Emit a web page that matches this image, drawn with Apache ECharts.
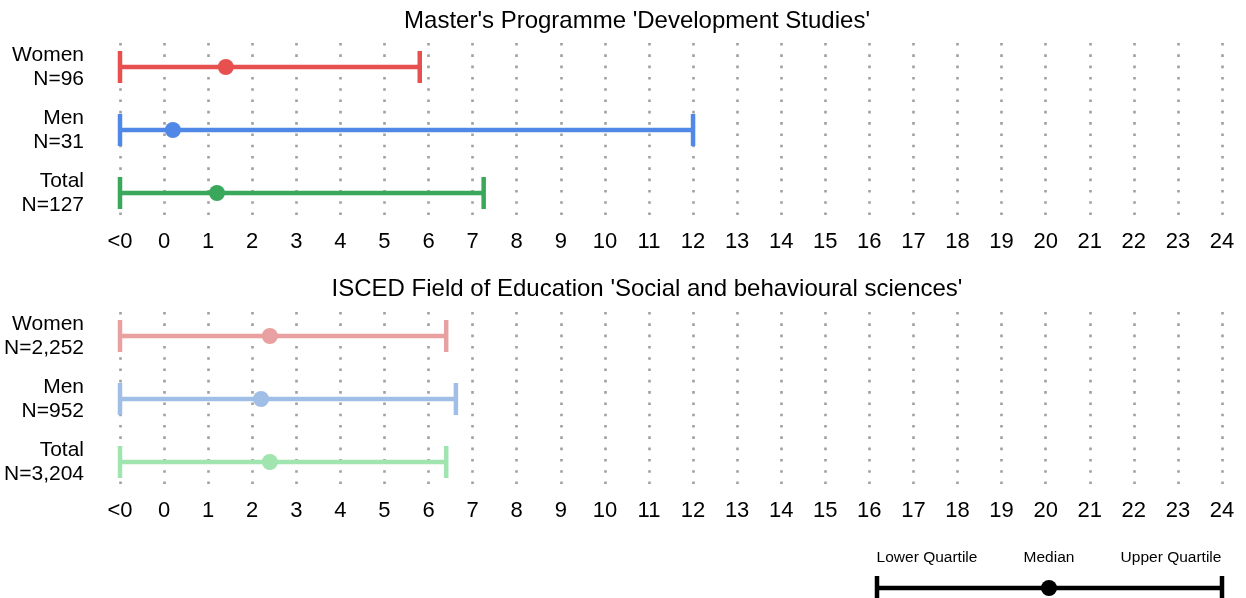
<!DOCTYPE html>
<html><head><meta charset="utf-8">
<script src="https://cdn.jsdelivr.net/npm/echarts@6/dist/echarts.min.js"></script>
<style>html,body{margin:0;padding:0;background:#fff}#c{width:1246px;height:598px}</style>
</head><body><div id="c"></div>
<script>
const titles = ["Master's Programme 'Development Studies'", "ISCED Field of Education 'Social and behavioural sciences'"];
const groups = ["Women", "Men", "Total"];
const countsProgramme = ["96", "31", "127"];
const countsField = ["2,252", "952", "3,204"];
const xTickValues = [-1,0,1,2,3,4,5,6,7,8,9,10,11,12,13,14,15,16,17,18,19,20,21,22,23,24];
const xTickLabels = ["<0","0","1","2","3","4","5","6","7","8","9","10","11","12","13","14","15","16","17","18","19","20","21","22","23","24"];
const lowerProgramme = [-1, -1, -1];
const medianProgramme = [1.4, 0.2, 1.2];
const upperProgramme = [5.8, 12.0, 7.25];
const lowerField = [-1, -1, -1];
const medianField = [2.4, 2.2, 2.4];
const upperField = [6.4, 6.62, 6.4];
const colorsProgramme = ["#E84F4F", "#5088E8", "#3AA85A"];
const colorsField = ["#E8A0A0", "#A0BEE6", "#A0E4B0"];
const legendLabels = ["Lower Quartile", "Median", "Upper Quartile"];

const FONT = "'Liberation Sans', Arial, sans-serif";
const chart = echarts.init(document.getElementById('c'), null, {renderer: 'canvas'});

function renderItem(params, api) {
  const row = api.value(3);
  const lo = api.coord([api.value(0), row]);
  const md = api.coord([api.value(1), row]);
  const hi = api.coord([api.value(2), row]);
  const color = api.visual('color');
  const w = 4.5, cap = 16;
  return {
    type: 'group',
    children: [
      {type: 'line', shape: {x1: lo[0], y1: lo[1], x2: hi[0], y2: hi[1]}, style: {stroke: color, lineWidth: w}},
      {type: 'line', shape: {x1: lo[0], y1: lo[1] - cap, x2: lo[0], y2: lo[1] + cap}, style: {stroke: color, lineWidth: w}},
      {type: 'line', shape: {x1: hi[0], y1: hi[1] - cap, x2: hi[0], y2: hi[1] + cap}, style: {stroke: color, lineWidth: w}},
      {type: 'circle', shape: {cx: md[0], cy: md[1], r: 8}, style: {fill: color}}
    ]
  };
}

function makeData(lo, md, hi, colors) {
  return groups.map((g, i) => ({value: [lo[i], md[i], hi[i], i], itemStyle: {color: colors[i]}}));
}

function xAxis(idx) {
  return {
    gridIndex: idx, type: 'value', min: -1, max: 24, interval: 1,
    axisLine: {show: false}, axisTick: {show: false},
    axisLabel: {margin: 13.5, fontSize: 22, color: '#000', fontFamily: FONT,
      formatter: v => xTickLabels[xTickValues.indexOf(v)]},
    splitLine: {show: true, lineStyle: {color: '#a0a0a0', width: 2.6, type: [2.6, 8.7]}}
  };
}
function yAxis(idx, counts) {
  return {
    gridIndex: idx, type: 'value', inverse: true, min: -0.381, max: 2.381,
    axisLine: {show: false}, axisTick: {show: false}, splitLine: {show: false},
    axisLabel: {customValues: [0, 1, 2], margin: 36, fontSize: 21, lineHeight: 23.5, color: '#000', fontFamily: FONT, align: 'right',
      padding: [3, 0, 0, 0],
      formatter: v => groups[v] + '\nN=' + counts[v]}
  };
}

const option = {
  animation: false,
  backgroundColor: '#fff',
  title: [
    {text: titles[0], left: 632, top: 4, textAlign: 'center', textStyle: {fontSize: 24, fontWeight: 'normal', color: '#000', fontFamily: FONT}},
    {text: titles[1], left: 642, top: 272, textAlign: 'center', textStyle: {fontSize: 24, fontWeight: 'normal', color: '#000', fontFamily: FONT}}
  ],
  grid: [
    {left: 120, right: 24, top: 43, height: 174},
    {left: 120, right: 24, top: 312, height: 174}
  ],
  xAxis: [xAxis(0), xAxis(1)],
  yAxis: [yAxis(0, countsProgramme), yAxis(1, countsField)],
  series: [
    {type: 'custom', xAxisIndex: 0, yAxisIndex: 0, renderItem, encode: {x: [0, 1, 2], y: 3}, data: makeData(lowerProgramme, medianProgramme, upperProgramme, colorsProgramme)},
    {type: 'custom', xAxisIndex: 1, yAxisIndex: 1, renderItem, encode: {x: [0, 1, 2], y: 3}, data: makeData(lowerField, medianField, upperField, colorsField)}
  ],
  graphic: [
    {type: 'line', shape: {x1: 877, y1: 588, x2: 1222, y2: 588}, style: {stroke: '#000', lineWidth: 4.5}},
    {type: 'line', shape: {x1: 877, y1: 576, x2: 877, y2: 600}, style: {stroke: '#000', lineWidth: 4.5}},
    {type: 'line', shape: {x1: 1222, y1: 576, x2: 1222, y2: 600}, style: {stroke: '#000', lineWidth: 4.5}},
    {type: 'circle', shape: {cx: 1049, cy: 588, r: 8}, style: {fill: '#000'}},
    {type: 'text', x: 927, y: 558, style: {text: legendLabels[0], fontSize: 15.5, fill: '#000', fontFamily: FONT, align: 'center', verticalAlign: 'middle'}},
    {type: 'text', x: 1049, y: 558, style: {text: legendLabels[1], fontSize: 15.5, fill: '#000', fontFamily: FONT, align: 'center', verticalAlign: 'middle'}},
    {type: 'text', x: 1171, y: 558, style: {text: legendLabels[2], fontSize: 15.5, fill: '#000', fontFamily: FONT, align: 'center', verticalAlign: 'middle'}}
  ]
};
chart.setOption(option);
</script>
</body></html>
